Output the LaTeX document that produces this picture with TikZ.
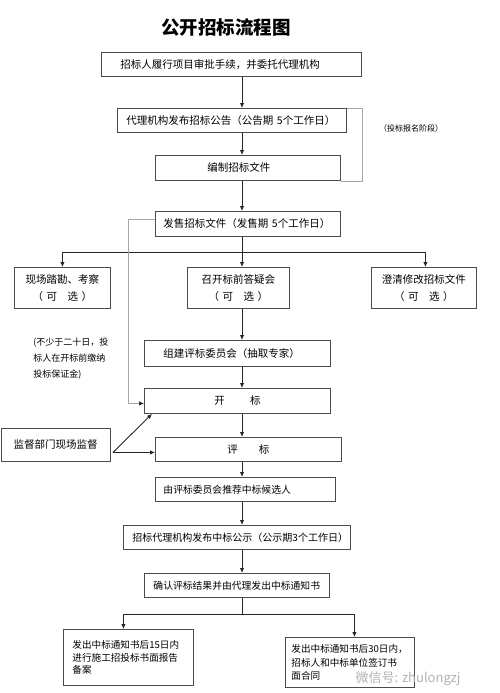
\documentclass[tikz,border=0pt]{standalone}
\usepackage{fontspec}
\setmainfont{Noto Sans CJK SC}
\usepackage{tikz}
\usetikzlibrary{arrows.meta}

\begin{document}
\begin{tikzpicture}[x=1pt,y=-1pt,thick,>={Latex[length=5pt,width=4.5pt]},
  kasten/.style={draw=black!70,line width=0.9pt,rectangle,anchor=north west,inner ysep=0pt,align=left,font=\fontsize{10.5}{13}\selectfont},
  mitte/.style={kasten,align=center,inner xsep=0pt,font=\fontsize{10.5}{17}\selectfont},
  pfeil/.style={draw=black!85,line width=0.9pt},
  grau/.style={draw=black!35,line width=0.7pt}]
  \useasboundingbox (0,0) rectangle (500,693);
  %\tiny
  \node[font=\bfseries\fontsize{18.5}{20}\selectfont] (t) at (226,27) {公开招标流程图};
  \coordinate (x0) at (242,0);

  \node[kasten,text width=222pt,inner xsep=19pt,minimum height=24pt] (a) at (101,52) {招标人履行项目审批手续，并委托代理机构};
  \node[kasten,text width=211pt,inner xsep=9pt,minimum height=24pt] (b) at (117,108) {代理机构发布招标公告（公告期~5个工作日）};
  \node[kasten,text width=81pt,inner xsep=52pt,minimum height=25pt] (c) at (155,155) {编制招标文件};
  \node[kasten,text width=169pt,inner xsep=8pt,minimum height=25pt] (d) at (155,211) {发售招标文件（发售期~5个工作日）};
  \node[font=\fontsize{8}{10}\selectfont] (p) at (411,128) {（投标报名阶段）};

  \node[mitte,text width=96pt,minimum height=41pt] (e) at (14,267) {现场踏勘、考察\\（~可\quad 选~）};
  \node[mitte,text width=102pt,minimum height=41pt] (f) at (187,267) {召开标前答疑会\\（~可\quad 选~）};
  \node[mitte,text width=105pt,minimum height=41pt] (g) at (371,267) {澄清修改招标文件\\（~可\quad 选~）};

  \node[anchor=north west,align=left,inner sep=0pt,font=\fontsize{9}{16}\selectfont] (q) at (33,338) {(不少于二十日，投\\标人在开标前缴纳\\投标保证金)};

  \node[kasten,text width=148pt,inner xsep=19pt,minimum height=26pt] (h) at (144,340) {组建评标委员会（抽取专家）};
  \node[mitte,text width=186pt,minimum height=25pt] (i) at (144,388) {开\hspace{2.4em}标};
  \node[mitte,text width=186pt,minimum height=24pt] (j) at (155,437) {评\hspace{2em}标};
  \node[mitte,text width=109.5pt,minimum height=33pt] (s) at (0.5,428) {监督部门现场监督};
  \node[kasten,text width=164pt,inner xsep=8pt,minimum height=24pt,font=\fontsize{9.8}{13}\selectfont] (k) at (155,477) {由评标委员会推荐中标候选人};
  \node[kasten,text width=209pt,inner xsep=9pt,minimum height=24pt,font=\fontsize{10}{13}\selectfont] (l) at (123,525) {招标代理机构发布中标公示（公示期3个工作日）};
  \node[kasten,text width=167pt,inner xsep=9pt,minimum height=24pt,font=\fontsize{9.8}{13}\selectfont] (m) at (144,573) {确认评标结果并由代理发出中标通知书};
  \node[kasten,text width=112pt,inner xsep=9pt,minimum height=56pt,font=\fontsize{9.6}{12.5}\selectfont] (n) at (63,629) {发出中标通知书后15日内\\进行施工招投标书面报告\\备案};
  \node[kasten,text width=117pt,inner xsep=6pt,minimum height=50pt,font=\fontsize{9.6}{13.5}\selectfont] (o) at (285,637) {发出中标通知书后30日内，\\招标人和中标单位签订书\\面合同};

  \node[text=black!30,font=\fontsize{13}{14}\selectfont] (w) at (408,679) {微信号: zhulongzj};

  \draw[pfeil,->] (a.south -| x0) -- (b.north -| x0);
  \draw[pfeil,->] (b.south -| x0) -- (c.north -| x0);
  \draw[pfeil,->] (c.south -| x0) -- (d.north -| x0);
  \draw[grau] (b.north east) -- ++(15,0) |- (c.south east);

  \draw[pfeil] (d.south -| x0) -- ++(0,16) coordinate (v1);
  \draw[pfeil,->] (v1) -| (e.north);
  \draw[pfeil,->] (v1) -- (f.north -| x0);
  \draw[pfeil,->] (v1) -| ([xshift=1.5pt]g.north);
  \draw[grau,-{Latex[length=5pt,width=4.5pt,color=black!85]}] ([yshift=4.5pt]d.west) -| ([xshift=-16pt,yshift=-2.5pt]i.west) -- ([yshift=-2.5pt]i.west);

  \draw[pfeil,->] (f.south -| x0) -- (h.north -| x0);
  \draw[pfeil,->] (h.south -| x0) -- (i.north -| x0);
  \draw[pfeil,->] (i.south -| x0) -- (j.north -| x0);
  \draw[pfeil,->] (j.south -| x0) -- (k.north -| x0);
  \draw[pfeil,->] (k.south -| x0) -- (l.north -| x0);
  \draw[pfeil,->] (l.south -| x0) -- (m.north -| x0);

  \coordinate (z) at ([xshift=2pt,yshift=-7.5pt]s.east);
  \draw[pfeil,->] (z) -- ([xshift=8pt]i.south west);
  \draw[pfeil,->] (z) -- (z -| j.west);

  \draw[pfeil] (m.south -| x0) -- ++(0,17) coordinate (v2);
  \draw[pfeil,->] (v2) -| ([xshift=-5pt]n.north);
  \draw[pfeil,->] (v2) -| ([xshift=4.5pt]o.north);

\end{tikzpicture}
\end{document}
